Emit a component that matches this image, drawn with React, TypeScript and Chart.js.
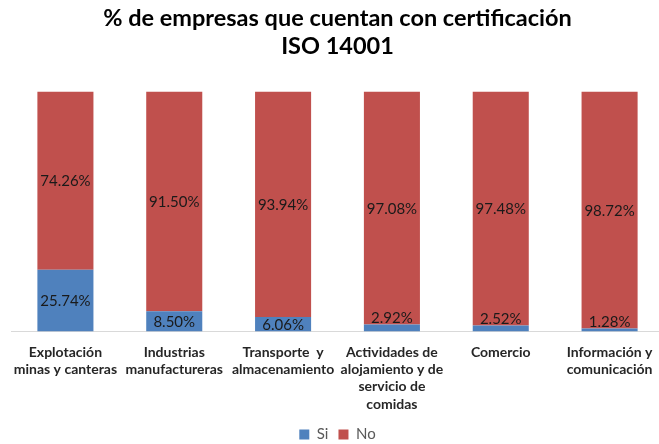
import React, { useEffect, useRef } from "react";
import { Chart, registerables } from "chart.js";

Chart.register(...registerables);

const categories: string[][] = [
  ["Explotación", "minas y canteras"],
  ["Industrias", "manufactureras"],
  ["Transporte  y", "almacenamiento"],
  ["Actividades de", "alojamiento y de", "servicio de", "comidas"],
  ["Comercio"],
  ["Información y", "comunicación"],
];
const siValues = [25.74, 8.5, 6.06, 2.92, 2.52, 1.28];
const noValues = [74.26, 91.5, 93.94, 97.08, 97.48, 98.72];
const seriesNames = ["Si", "No"];
const titleLines = ["% de empresas que cuentan con certificación", "ISO 14001"];

const FONT = "Lato, 'Open Sans', sans-serif";

const labelPlugin = {
  id: "valueLabels",
  afterDatasetsDraw(chart: any) {
    const ctx = chart.ctx;
    ctx.save();
    ctx.font = `15px ${FONT}`;
    ctx.fillStyle = "#1a1a1a";
    ctx.textAlign = "center";
    chart.data.datasets.forEach((ds: any, di: number) => {
      const meta = chart.getDatasetMeta(di);
      meta.data.forEach((el: any, i: number) => {
        const v = ds.data[i];
        const top = Math.min(el.y, el.base);
        const bottom = Math.max(el.y, el.base);
        const h = bottom - top;
        const text = v.toFixed(2) + "%";
        if (h >= 13) {
          ctx.textBaseline = "middle";
          ctx.fillText(text, el.x, (top + bottom) / 2 + 1);
        } else {
          ctx.textBaseline = "bottom";
          ctx.fillText(text, el.x, top + 1);
        }
      });
    });
    ctx.restore();
  },
};

export default function App() {
  const ref = useRef<HTMLCanvasElement | null>(null);
  useEffect(() => {
    document.documentElement.style.overflow = "hidden";
    document.body.style.overflow = "hidden";
    const chart = new Chart(ref.current!, {
      type: "bar",
      data: {
        labels: categories,
        datasets: [
          {
            label: seriesNames[0],
            data: siValues,
            backgroundColor: "#4f81bd",
            borderWidth: 0,
            barPercentage: 0.515,
            categoryPercentage: 1,
          },
          {
            label: seriesNames[1],
            data: noValues,
            backgroundColor: "#c0504d",
            borderWidth: 0,
            barPercentage: 0.515,
            categoryPercentage: 1,
          },
        ],
      },
      options: {
        animation: false,
        responsive: false,
        maintainAspectRatio: false,
        layout: { padding: { left: 11, right: 1, top: 4, bottom: -8 } },
        plugins: {
          title: {
            display: true,
            text: titleLines,
            color: "#000",
            font: { family: FONT, size: 23.5, weight: "bold", lineHeight: 1.2 },
            padding: { top: 0, bottom: 31 },
          },
          legend: {
            position: "bottom",
            labels: {
              boxWidth: 10,
              boxHeight: 10,
              color: "#595959",
              font: { family: FONT, size: 15 },
              padding: 10,
            },
          },
          tooltip: { enabled: false },
        },
        scales: {
          x: {
            stacked: true,
            grid: { display: false },
            border: { display: true, color: "#d9d9d9", width: 1 },
            ticks: {
              color: "#262626",
              font: { family: FONT, size: 14, weight: "bold", lineHeight: 1.24 },
              maxRotation: 0,
              autoSkip: false,
              padding: 4,
            },
          },
          y: {
            stacked: true,
            display: false,
            min: 0,
            max: 100,
          },
        },
      },
      plugins: [labelPlugin],
    });
    return () => chart.destroy();
  }, []);
  return (
    <div style={{ position: "absolute", left: 0, top: 0, width: 665, height: 444 }}>
      <canvas ref={ref} width={665} height={444} />
    </div>
  );
}
